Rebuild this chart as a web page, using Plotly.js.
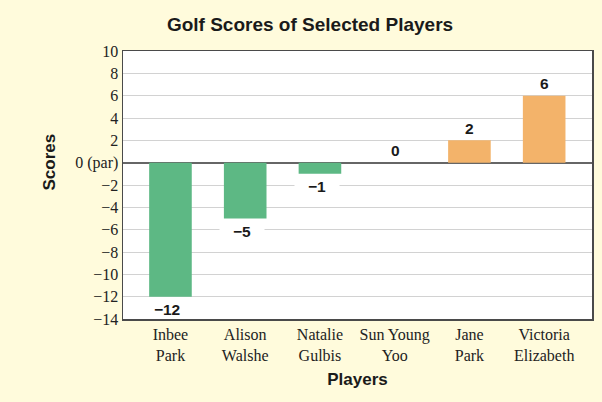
<!DOCTYPE html>
<html>
<head>
<meta charset="utf-8">
<script src="https://cdn.plot.ly/plotly-3.0.1.min.js"></script>
<style>
  html, body { margin: 0; padding: 0; background: #fffbdc; }
  #chart { width: 602px; height: 402px; }
</style>
</head>
<body>
<div id="chart"></div>
<script>
const players = ["Inbee<br>Park", "Alison<br>Walshe", "Natalie<br>Gulbis", "Sun Young<br>Yoo", "Jane<br>Park", "Victoria<br>Elizabeth"];
const scores = [-12, -5, -1, 0, 2, 6];
const yTicks = [-14, -12, -10, -8, -6, -4, -2, 0, 2, 4, 6, 8, 10];

const fmt = v => v < 0 ? "\u2212" + Math.abs(v) : String(v);
const yTickText = yTicks.map(v => v === 0 ? "0 (par)" : fmt(v));
const xIdx = players.map((p, i) => i);
const colors = scores.map(v => v < 0 ? "#5db884" : "#f3b36a");

const trace = {
  type: "bar",
  x: xIdx,
  y: scores,
  width: 0.57,
  marker: { color: colors, line: { width: 0 } },
  hoverinfo: "none"
};

const pad = "\u00a0\u00a0\u00a0";
const annotations = scores.map((v, i) => ({
  x: i, y: v, xref: "x", yref: "y",
  text: pad + "<b>" + fmt(v) + "</b>" + pad,
  showarrow: false,
  xshift: v < 0 ? -3 : 0,
  yshift: v < 0 ? -13 : 12,
  yanchor: "middle",
  font: { family: "Liberation Sans, Arial, sans-serif", size: 15.5, color: "#1a1a1a" },
  bgcolor: "#ffffff",
  borderpad: 0
}));

annotations.push({
  xref: "paper", yref: "paper",
  x: -0.156, y: 0.587,
  xanchor: "center", yanchor: "middle",
  text: "<b>Scores</b>",
  textangle: -90,
  showarrow: false,
  font: { family: "Liberation Sans, Arial, sans-serif", size: 17, color: "#1a1a1a" }
});

const layout = {
  width: 602, height: 402,
  paper_bgcolor: "#fffbdc",
  plot_bgcolor: "#ffffff",
  margin: { l: 123, r: 10, t: 51, b: 83 },
  showlegend: false,
  title: {
    text: "<b>Golf Scores of Selected Players</b>",
    x: 0.515, xanchor: "center",
    y: 0.94, yanchor: "middle",
    font: { family: "Liberation Sans, Arial, sans-serif", size: 19, color: "#1a1a1a" }
  },
  xaxis: {
    range: [-0.635, 5.64],
    tickvals: xIdx,
    ticktext: players,
    showgrid: false,
    zeroline: false,
    showline: true, mirror: true, linecolor: "#4a4a4a", linewidth: 1.5,
    ticks: "",
    tickfont: { family: "Liberation Serif, Times New Roman, serif", size: 16, color: "#222222" },
    title: {
      text: "<b>Players</b>",
      standoff: 10,
      font: { family: "Liberation Sans, Arial, sans-serif", size: 17, color: "#1a1a1a" }
    }
  },
  yaxis: {
    range: [-14, 10],
    tickvals: yTicks,
    ticktext: yTickText,
    showgrid: true, gridcolor: "#d2d2d2", gridwidth: 1,
    zeroline: true, zerolinecolor: "#666666", zerolinewidth: 2,
    showline: true, mirror: true, linecolor: "#4a4a4a", linewidth: 1.5,
    ticks: "",
    ticklen: 0,
    tickfont: { family: "Liberation Serif, Times New Roman, serif", size: 16, color: "#222222" }
  },
  annotations: annotations
};

Plotly.newPlot("chart", [trace], layout, { displayModeBar: false, staticPlot: true });
</script>
</body>
</html>
